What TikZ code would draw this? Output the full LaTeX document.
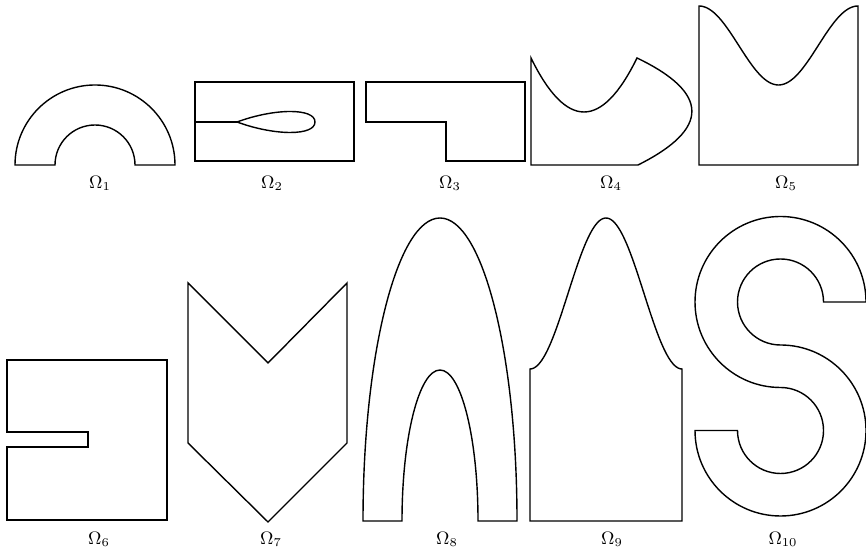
\documentclass[tikz,border=0pt]{standalone}
\begin{document}
\begin{tikzpicture}[x=0.5pt,y=0.5pt,
  outl/.style={draw=black,line width=0.7pt,line join=miter},
  lab/.style={anchor=base,inner sep=0pt,font=\fontsize{9}{11}\selectfont}]
\useasboundingbox (0,0) rectangle (866,560);
% Omega 1
\draw[outl] (15,395) arc (180:0:80) -- (135,395) arc (0:180:40) -- cycle;
% Omega 2
\draw[outl] (195,399) rectangle (354,478);
\draw[outl,line width=1.4pt] (195,438) -- (237,438);
\draw[outl] (237,438) .. controls (275,452) and (315,452) .. (315,438)
  .. controls (315,424) and (275,424) .. (237,438);
% Omega 3
\draw[outl] (366,478) -- (525,478) -- (525,399) -- (446,399) -- (446,438) -- (366,438) -- cycle;
% Omega 4
\draw[outl] (531,502) -- (531,395) -- (638,395)
  .. controls (710,431) and (710,467) .. (637,502)
  .. controls (601.7,430) and (566.3,430) .. (531,502) -- cycle;
% Omega 5
\draw[outl] (699,554) -- (699,395) -- (858,395) -- (858,554)
  -- plot[domain=1:0,samples=80,variable=\t] ({699+159*\t},{514.5+39.5*cos(360*\t)}) -- cycle;
% Omega 6
\draw[outl] (7,200) -- (167,200) -- (167,40) -- (7,40) -- (7,113) -- (88,113) -- (88,128) -- (7,128) -- cycle;
% Omega 7
\draw[outl] (188,277) -- (268,197) -- (347,277) -- (347,117) -- (268,38) -- (188,117) -- cycle;
% Omega 8
\draw[outl] (363,39) arc [start angle=180,end angle=0,x radius=77,y radius=303]
  -- (478,39) arc [start angle=0,end angle=180,x radius=38,y radius=151] -- cycle;
% Omega 9
\draw[outl] (530,191) -- (530,39) -- (682,39) -- (682,191)
  -- plot[domain=1:0,samples=80,variable=\t] ({530+152*\t},{266.5-75.5*cos(360*\t)}) -- cycle;
% Omega 10
\draw[outl] (823.5,258) -- (866,258) arc (0:270:85.5) arc (90:-180:43) -- (695,129.5)
  arc (180:450:85.5) arc (270:0:43) -- cycle;
% labels
\node[lab] (l1) at (100,371) {$\Omega_1$};
\node[lab] (l2) at (272,371) {$\Omega_2$};
\node[lab] (l3) at (450,371) {$\Omega_3$};
\node[lab] (l4) at (611,371) {$\Omega_4$};
\node[lab] (l5) at (786,371) {$\Omega_5$};
\node[lab] (l6) at (99,15) {$\Omega_6$};
\node[lab] (l7) at (271,15) {$\Omega_7$};
\node[lab] (l8) at (447,15) {$\Omega_8$};
\node[lab] (l9) at (612,15) {$\Omega_9$};
\node[lab] (l10) at (783,15) {$\Omega_{10}$};
\end{tikzpicture}
\end{document}
